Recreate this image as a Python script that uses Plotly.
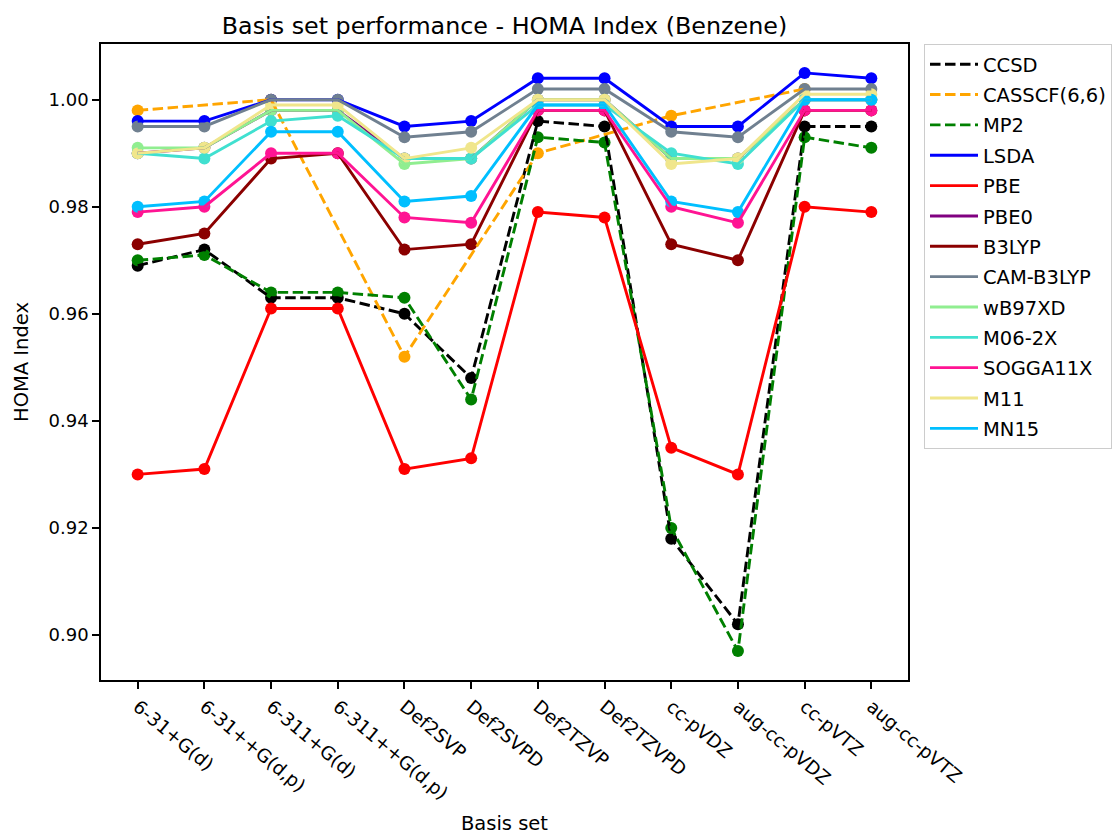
import plotly.graph_objects as go

basis_sets = ["6-31+G(d)", "6-31++G(d,p)", "6-311+G(d)", "6-311++G(d,p)", "Def2SVP", "Def2SVPD",
              "Def2TZVP", "Def2TZVPD", "cc-pVDZ", "aug-cc-pVDZ", "cc-pVTZ", "aug-cc-pVTZ"]

ccsd = [0.969, 0.972, 0.963, 0.963, 0.960, 0.948, 0.996, 0.995, 0.918, 0.902, 0.995, 0.995]
casscf_basis = ["6-31+G(d)", "6-311+G(d)", "Def2SVP", "Def2TZVP", "cc-pVDZ", "cc-pVTZ"]
casscf = [0.998, 1.000, 0.952, 0.990, 0.997, 1.002]
mp2 = [0.970, 0.971, 0.964, 0.964, 0.963, 0.944, 0.993, 0.992, 0.920, 0.897, 0.993, 0.991]
lsda = [0.996, 0.996, 1.000, 1.000, 0.995, 0.996, 1.004, 1.004, 0.995, 0.995, 1.005, 1.004]
pbe = [0.930, 0.931, 0.961, 0.961, 0.931, 0.933, 0.979, 0.978, 0.935, 0.930, 0.980, 0.979]
pbe0 = [0.990, 0.991, 0.998, 0.998, 0.989, 0.989, 1.000, 1.000, 0.989, 0.989, 1.000, 1.000]
b3lyp = [0.973, 0.975, 0.989, 0.990, 0.972, 0.973, 0.998, 0.998, 0.973, 0.970, 0.998, 0.998]
cam_b3lyp = [0.995, 0.995, 1.000, 1.000, 0.993, 0.994, 1.002, 1.002, 0.994, 0.993, 1.002, 1.002]
wb97xd = [0.991, 0.991, 0.998, 0.998, 0.988, 0.989, 1.000, 1.000, 0.989, 0.989, 1.000, 1.000]
m062x = [0.990, 0.989, 0.996, 0.997, 0.989, 0.989, 0.999, 0.999, 0.990, 0.988, 1.000, 1.000]
sogga11x = [0.979, 0.980, 0.990, 0.990, 0.978, 0.977, 0.998, 0.998, 0.980, 0.977, 0.998, 0.998]
m11 = [0.990, 0.991, 0.999, 0.999, 0.989, 0.991, 1.000, 1.000, 0.988, 0.989, 1.001, 1.001]
mn15 = [0.980, 0.981, 0.994, 0.994, 0.981, 0.982, 0.999, 0.999, 0.981, 0.979, 1.000, 1.000]

series = [
    ("CCSD", basis_sets, ccsd, "black", True),
    ("CASSCF(6,6)", casscf_basis, casscf, "orange", True),
    ("MP2", basis_sets, mp2, "green", True),
    ("LSDA", basis_sets, lsda, "blue", False),
    ("PBE", basis_sets, pbe, "red", False),
    ("PBE0", basis_sets, pbe0, "purple", False),
    ("B3LYP", basis_sets, b3lyp, "darkred", False),
    ("CAM-B3LYP", basis_sets, cam_b3lyp, "slategray", False),
    ("wB97XD", basis_sets, wb97xd, "lightgreen", False),
    ("M06-2X", basis_sets, m062x, "turquoise", False),
    ("SOGGA11X", basis_sets, sogga11x, "deeppink", False),
    ("M11", basis_sets, m11, "khaki", False),
    ("MN15", basis_sets, mn15, "deepskyblue", False),
]

fig = go.Figure()

# markers (drawn beneath lines, like matplotlib scatter)
for name, xs, ys, color, dashed in series:
    fig.add_trace(go.Scatter(x=xs, y=ys, mode="markers", name=name, legendgroup=name,
                             showlegend=False, marker=dict(color=color, size=12, line=dict(width=0)),
                             hoverinfo="skip"))

for name, xs, ys, color, dashed in series:
    fig.add_trace(go.Scatter(x=xs, y=ys, mode="lines", name=name, legendgroup=name,
                             line=dict(color=color, width=2.9, dash="10.5px,4.5px" if dashed else "solid")))

font_family = "DejaVu Sans, sans-serif"
fig.update_layout(
    width=1117, height=835,
    paper_bgcolor="white", plot_bgcolor="white",
    margin=dict(l=101, r=209, t=44, b=155, autoexpand=False),
    font=dict(family=font_family, size=18, color="black"),
    title=dict(text="Basis set performance - HOMA Index (Benzene)", x=504.5 / 1117,
               xanchor="center", y=1 - 26 / 835, yanchor="middle", yref="container",
               font=dict(size=23.8, color="black")),
    xaxis=dict(type="category", categoryorder="array", categoryarray=basis_sets,
               range=[-0.55, 11.55], tickangle=40, showgrid=False, zeroline=False,
               automargin=False,
               showline=True, linecolor="black", linewidth=1.5, mirror=True,
               ticks="outside", ticklen=7, tickwidth=1.5, tickcolor="black",
               tickfont=dict(size=18.5),
               title=dict(text="Basis set", standoff=14, font=dict(size=19.5))),
    yaxis=dict(range=[0.8916, 1.0104], tick0=0.9, dtick=0.02, tickformat=".2f",
               showgrid=False, zeroline=False, automargin=False,
               showline=True, linecolor="black", linewidth=1.5, mirror=True,
               ticks="outside", ticklen=7, tickwidth=1.5, tickcolor="black",
               tickfont=dict(size=18),
               title=dict(text="HOMA Index", standoff=15, font=dict(size=19.5))),
    legend=dict(x=(924 - 101) / 807, y=1.0, xanchor="left", yanchor="top", bgcolor="white",
                bordercolor="#cccccc", borderwidth=1, tracegroupgap=2,
                itemwidth=48, font=dict(size=19.5)),
)

fig.write_html("out.html")
